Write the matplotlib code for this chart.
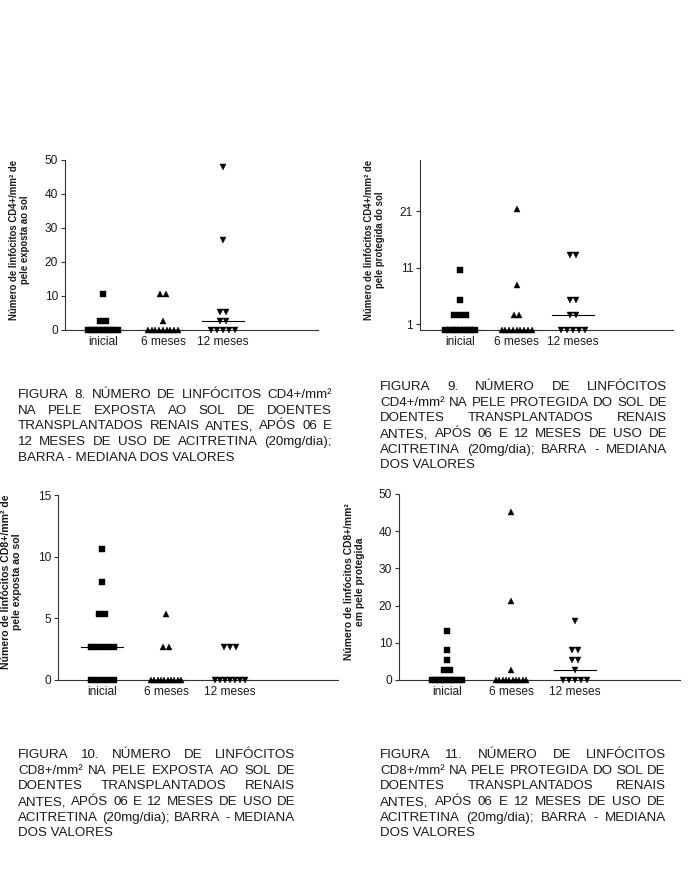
import numpy as np
import matplotlib
matplotlib.use("Agg")
import matplotlib.pyplot as plt

plt.rcParams['font.family'] = ['Liberation Sans', 'DejaVu Sans']

groups = ['inicial', '6 meses', '12 meses']
markers = ['s', '^', 'v']

# CD4+ pele exposta ao sol
cd4_exp = [
    [0, 0, 0, 0, 0, 0, 0, 0, 0, 2.66, 2.66, 10.64],
    [0, 0, 0, 0, 0, 0, 0, 0, 0, 2.66, 10.64, 10.64],
    [0, 0, 0, 0, 0, 2.66, 2.66, 5.32, 5.32, 26.6, 47.9],
]
# CD4+ pele protegida do sol
cd4_prot = [
    [0, 0, 0, 0, 0, 0, 0, 0, 0, 2.66, 2.66, 2.66, 5.32, 10.64],
    [0, 0, 0, 0, 0, 0, 0, 0, 0, 2.66, 2.66, 7.98, 21.28],
    [0, 0, 0, 0, 0, 2.66, 2.66, 5.32, 5.32, 13.3, 13.3],
]
# CD8+ pele exposta ao sol
cd8_exp = [
    [0, 0, 0, 0, 0, 2.66, 2.66, 2.66, 2.66, 2.66, 5.32, 5.32, 7.98, 10.64],
    [0, 0, 0, 0, 0, 0, 0, 0, 0, 0, 2.66, 2.66, 5.32],
    [0, 0, 0, 0, 0, 0, 0, 2.66, 2.66, 2.66],
]
# CD8+ pele protegida
cd8_prot = [
    [0, 0, 0, 0, 0, 0, 0, 0, 0, 0, 2.66, 2.66, 5.32, 7.98, 13.3],
    [0, 0, 0, 0, 0, 0, 0, 0, 0, 0, 2.66, 21.28, 45.2],
    [0, 0, 0, 0, 0, 2.66, 5.32, 5.32, 7.98, 7.98, 15.96],
]

ylabels = [
    'Número de linfócitos CD4+/mm² de\npele exposta ao sol',
    'Número de linfócitos CD4+/mm² de\npele protegida do sol',
    'Número de linfócitos CD8+/mm² de\npele exposta ao sol',
    'Número de linfócitos CD8+/mm²\nem pele protegida',
]
yticks = [[0, 10, 20, 30, 40, 50], [1, 11, 21], [0, 5, 10, 15], [0, 10, 20, 30, 40, 50]]
ylims = [(0, 50), (0, 30), (0, 15), (0, 50)]

captions = [
    ['FIGURA 8. NÚMERO DE LINFÓCITOS CD4+/mm²',
     'NA PELE EXPOSTA AO SOL DE DOENTES',
     'TRANSPLANTADOS RENAIS ANTES, APÓS 06 E',
     '12 MESES DE USO DE ACITRETINA (20mg/dia);',
     'BARRA - MEDIANA DOS VALORES'],
    ['FIGURA 9. NÚMERO DE LINFÓCITOS',
     'CD4+/mm² NA PELE PROTEGIDA DO SOL DE',
     'DOENTES TRANSPLANTADOS RENAIS',
     'ANTES, APÓS 06 E 12 MESES DE USO DE',
     'ACITRETINA (20mg/dia); BARRA - MEDIANA',
     'DOS VALORES'],
    ['FIGURA 10. NÚMERO DE LINFÓCITOS',
     'CD8+/mm² NA PELE EXPOSTA AO SOL DE',
     'DOENTES TRANSPLANTADOS RENAIS',
     'ANTES, APÓS 06 E 12 MESES DE USO DE',
     'ACITRETINA (20mg/dia); BARRA - MEDIANA',
     'DOS VALORES'],
    ['FIGURA 11. NÚMERO DE LINFÓCITOS',
     'CD8+/mm² NA PELE PROTEGIDA DO SOL DE',
     'DOENTES TRANSPLANTADOS RENAIS',
     'ANTES, APÓS 06 E 12 MESES DE USO DE',
     'ACITRETINA (20mg/dia); BARRA - MEDIANA',
     'DOS VALORES'],
]

W, H = 688, 894
fig = plt.figure(figsize=(W / 100, H / 100), dpi=100)

# axes boxes in pixels: left, right, top, bottom ; xlim
boxes = [(65, 318, 160, 330), (420, 673, 160, 330), (58, 338, 495, 680), (399, 680, 494, 680)]
xlims = [(0.37, 4.58), (0.29, 4.77), (0.31, 4.69), (0.25, 4.64)]
lab_x = [30, 385, 22, 365]
lab_y = [240, 240, 582, 582]
lab_fs = [6.9, 6.9, 7.6, 7.4]
datasets = [cd4_exp, cd4_prot, cd8_exp, cd8_prot]
ink = '#1a1a1a'

for k in range(4):
    l, r, t, b = boxes[k]
    ax = fig.add_axes([l / W, 1 - b / H, (r - l) / W, (b - t) / H])
    ax.set_xlim(*xlims[k])
    ax.set_ylim(*ylims[k])
    pxu = (r - l) / (xlims[k][1] - xlims[k][0])
    for g, vals in enumerate(datasets[k]):
        c = g + 1
        vals = np.array(vals)
        for v in np.unique(vals):
            n = np.sum(vals == v)
            span = min(5.8 * (n - 1), 30) / pxu
            xs = c + np.linspace(-span / 2, span / 2, n) if n > 1 else np.array([c])
            ax.plot(xs, [v] * n, linestyle='none', marker=markers[g],
                    ms=4 if g == 0 else 4.5, color='black', mec='black', mew=0.3,
                    clip_on=False, zorder=3)
        m = np.median(vals)
        hw = 21 / pxu
        ax.plot([c - hw, c + hw], [m, m], color='black', lw=0.8, zorder=2, clip_on=False)
    for s in ['top', 'right']:
        ax.spines[s].set_visible(False)
    for s in ['left', 'bottom']:
        ax.spines[s].set_linewidth(0.8)
        ax.spines[s].set_color('#333333')
    ax.set_xticks([1, 2, 3])
    ax.set_xticklabels(groups, fontsize=8.6, color=ink)
    ax.tick_params(axis='x', length=0, pad=4)
    ax.set_yticks(yticks[k])
    ax.tick_params(axis='y', length=3, width=0.8, color='#333333', labelsize=8.6,
                   labelcolor=ink, pad=2)
    ax.set_ylabel(ylabels[k], fontsize=lab_fs[k], fontweight='bold', color=ink,
                  linespacing=1.1)
    ax.yaxis.set_label_coords((lab_x[k] - l) / (r - l), (b - lab_y[k]) / (b - t))

# justified captions
renderer = fig.canvas.get_renderer()
cap_fs = 9.6
cap_box = [(18, 332, 398.0), (380, 667, 390.0), (18, 295, 758.0), (380, 666, 758.0)]
lh = 15.7
for k, lines in enumerate(captions):
    x0, x1, y0 = cap_box[k]
    for i, line in enumerate(lines):
        y = 1 - (y0 + i * lh) / H
        words = line.split(' ')
        if i == len(lines) - 1:
            fig.text(x0 / W, y, line, fontsize=cap_fs, color=ink, va='baseline', ha='left')
            continue
        ts = [fig.text(0, y, w, fontsize=cap_fs, color=ink, va='baseline', ha='left') for w in words]
        widths = [t.get_window_extent(renderer).width for t in ts]
        gap = max((x1 - x0 - sum(widths)) / (len(words) - 1), 2.5)
        x = x0
        for t, w in zip(ts, widths):
            t.set_x(x / W)
            x += w + gap

fig.savefig('out.png', dpi=100, facecolor='white')
